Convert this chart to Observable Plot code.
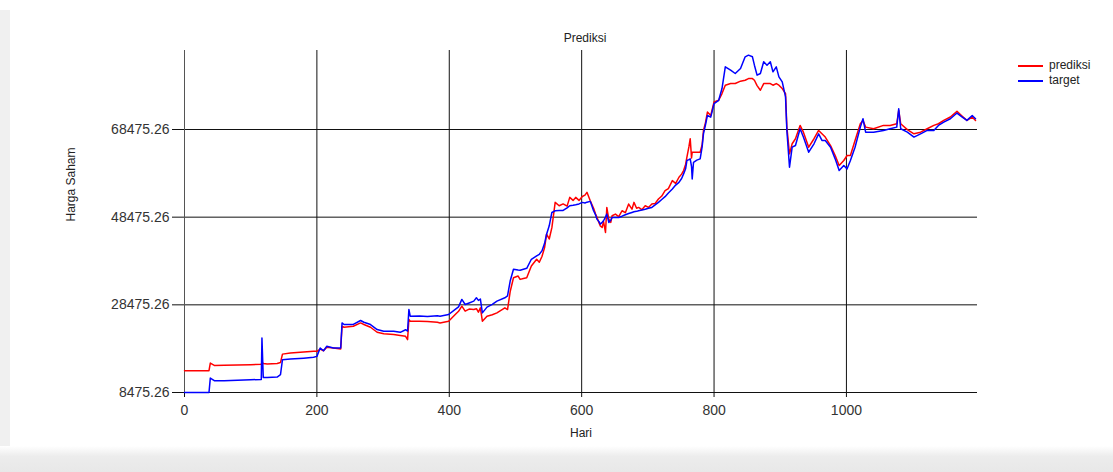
<!DOCTYPE html>
<html>
<head>
<meta charset="utf-8">
<script src="https://cdn.jsdelivr.net/npm/d3@7"></script>
<script src="https://cdn.jsdelivr.net/npm/@observablehq/plot@0.6"></script>
<style>
  html, body { margin: 0; padding: 0; background: #fff; }
  body { font-family: "Liberation Sans", Arial, sans-serif; }
  #wrap { position: relative; width: 1113px; height: 472px; overflow: hidden; background: #fff; }
  #leftstrip { position: absolute; left: 0; top: 10px; width: 10px; height: 462px; background: #f0f0f0; }
  #bottomstrip { position: absolute; left: 0; top: 446px; width: 1113px; height: 26px;
    background: linear-gradient(#ffffff, #ececec 40%, #e8e8e8); }
  #chart { position: absolute; left: 0; top: 0; }
  #legend { position: absolute; left: 1018px; top: 58px; font-size: 12px; color: #222; line-height: 15px; }
  #legend .row { display: flex; align-items: center; height: 15px; }
  #legend .sw { width: 25px; height: 2px; margin-right: 6px; }
</style>
</head>
<body>
<div id="wrap">
  <div id="leftstrip"></div>
  <div id="bottomstrip"></div>
  <div id="chart"></div>
  <div id="legend">
    <div class="row"><span class="sw" style="background:#ff0000"></span><span>prediksi</span></div>
    <div class="row"><span class="sw" style="background:#0000ff"></span><span>target</span></div>
  </div>
</div>
<script>
const days = [0,37,39,45,60,80,100,116,117,119,125,140,145,148,160,180,195,200,205,210,215,225,236,238,241,255,266,271,281,291,301,316,326,334,337,339,341,355,367,382,386,399,409,414,419,424,430,437,441,444,447,450,457,465,472,484,488,492,497,504,507,512,517,524,532,536,540,544,547,551,555,560,566,572,578,582,587,591,596,601,605,608,613,618,621,623,626,628,631,633,636,638,641,644,646,651,656,661,666,671,676,679,683,686,691,696,701,706,711,716,721,726,731,737,742,747,751,754,757,759,762,764,766,767,769,774,779,782,784,787,790,795,800,807,812,817,825,832,840,847,852,858,861,865,870,875,880,885,889,894,898,903,908,910,914,918,923,930,935,943,951,958,963,968,976,983,989,996,1001,1006,1013,1021,1025,1029,1041,1056,1066,1076,1079,1082,1092,1102,1112,1122,1132,1139,1147,1157,1167,1175,1182,1190,1195];

const target = [8475,8475,11770,11160,11160,11250,11380,11450,20910,11900,11920,12000,12530,15960,16100,16300,16500,16720,18620,18000,19010,18620,18620,24350,23980,24000,24900,24500,23980,22840,22450,22450,22200,22800,22500,27420,25880,25900,25800,26000,25880,26270,27420,28000,29710,28560,28900,29320,30080,29500,29800,26640,27950,28600,29320,30080,30500,33900,36580,36400,36350,36600,36810,38870,39630,40000,40780,42500,44600,46500,49550,49940,50000,50020,50600,51090,51200,51320,51500,51850,51700,51900,52080,49940,49000,48030,47500,46890,47300,47660,48500,49180,47280,47800,48410,48410,48410,48700,49030,49300,49550,49700,49800,49940,50100,50300,50500,50700,51300,51850,52500,53150,54000,54910,55800,56430,57300,58350,59500,61400,61600,61780,60000,57200,61000,61500,61780,64500,67490,69500,71680,71300,74380,75140,77820,82770,82010,81250,82390,85060,85440,85060,83150,80870,81250,83920,83150,83920,81630,82770,80480,79330,75900,68260,59870,64440,64820,68640,66750,63300,65220,67490,65980,65980,64440,61780,59110,60250,59500,61400,64440,69020,70930,67870,67870,68260,68640,69020,73220,68640,67870,66750,67490,68260,68260,69410,70170,70930,72230,71320,70550,71680,70930];

const prediksi = [13440,13440,15190,14660,14700,14750,14820,14900,15410,15100,15000,15100,15300,17230,17500,17700,17870,17870,18400,18000,18800,18620,18400,23590,23360,23600,24350,24000,23360,22220,21900,21690,21500,21300,20540,25130,24740,24750,24700,24500,24350,24740,26270,27000,28170,27030,27500,27420,27600,26800,27780,24740,25880,26200,26640,27780,27400,31500,34660,35050,34280,34500,34660,37340,38870,38200,39500,41530,44600,43500,46090,51850,51090,51500,51000,52990,52300,52990,52300,53200,53500,54140,52230,50500,49180,48500,47280,46500,46130,47500,44980,50700,48000,47280,48800,49180,48600,49940,49500,51470,50300,51850,50500,50700,50200,51090,50700,51470,51600,52610,53300,54520,55000,56810,56200,57580,58300,59110,60500,62160,64500,66370,62000,63300,63300,63300,63300,65000,68260,70000,72450,71680,74760,75140,76670,78580,78960,78960,79500,79720,80100,80100,79720,78500,77440,78960,78960,78960,78580,78960,78580,77820,76670,69020,62920,65220,66370,69410,67870,64440,66370,68260,67490,66750,64820,62540,60250,61400,62540,62540,65980,69790,70550,69020,68640,69410,69410,69790,72830,69790,68450,67490,67870,68640,69410,69790,70550,71320,72610,71500,70550,71320,70550];

const xTicks = [0, 200, 400, 600, 800, 1000];
const yTicks = [8475.26, 28475.26, 48475.26, 68475.26];
const titleText = "Prediksi";
const xLabel = "Hari";
const yLabel = "Harga Saham";

const rows = days.map((d, i) => ({day: d, prediksi: prediksi[i], target: target[i]}));

const chart = Plot.plot({
  width: 1113,
  height: 472,
  marginLeft: 184,
  marginRight: 136,
  marginTop: 50,
  marginBottom: 80,
  style: {background: "transparent", fontFamily: "'Liberation Sans', Arial, sans-serif", fontSize: "14px", color: "#333"},
  x: {domain: [0, 1198]},
  y: {domain: [8475.26, 86500]},
  marks: [
    Plot.gridX(xTicks, {stroke: "#111", strokeOpacity: 1}),
    Plot.gridY(yTicks, {stroke: "#111", strokeOpacity: 1}),
    Plot.ruleX([0], {stroke: "#555"}),
    Plot.ruleY([8475.26], {stroke: "#111"}),
    Plot.axisX(xTicks, {tickSize: 5, tickPadding: 8, label: null, tickFormat: d => String(d), stroke: "#111", fill: "#333", fontSize: 14}),
    Plot.axisY(yTicks, {tickSize: 12, tickPadding: 3, label: null, tickFormat: d => d.toFixed(2), stroke: "#111", fill: "#333", fontSize: 14}),
    Plot.line(rows, {x: "day", y: "prediksi", stroke: "#ff0000", strokeWidth: 1.5}),
    Plot.line(rows, {x: "day", y: "target", stroke: "#0000ff", strokeWidth: 1.5}),
    Plot.text([titleText], {frameAnchor: "top", dy: -17, dx: 4, fontSize: 12, fill: "#222"}),
    Plot.text([xLabel], {frameAnchor: "bottom", dy: 44, dx: 0, fontSize: 12, fill: "#222"}),
    Plot.text([yLabel], {frameAnchor: "left", dx: -113, rotate: -90, fontSize: 12, fill: "#222"})
  ]
});
document.getElementById("chart").appendChild(chart);
</script>
</body>
</html>
